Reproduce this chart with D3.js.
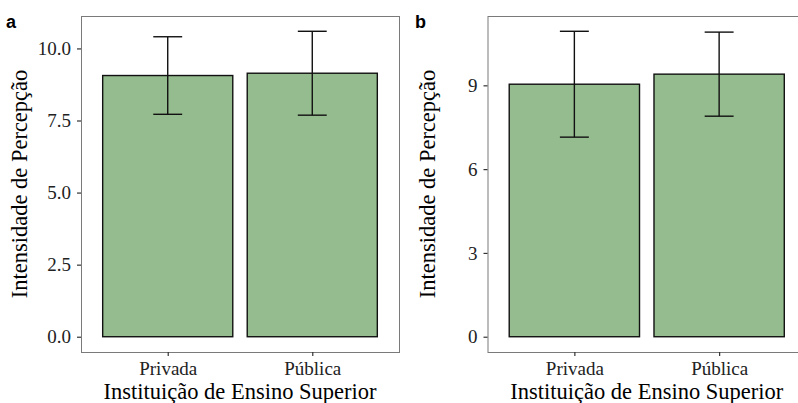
<!DOCTYPE html>
<html>
<head>
<meta charset="utf-8">
<script src="https://cdn.jsdelivr.net/npm/d3@7"></script>
<style>
  html, body { margin: 0; padding: 0; background: #fff; }
  svg { display: block; }
</style>
</head>
<body>
<div id="chart"></div>
<script>
// categories shared by both panels
var categories = ["Privada", "Pública"];

// panel a
var meansA = [9.06, 9.14];
var errA = [1.345, 1.455];
var ticksA = [0, 2.5, 5, 7.5, 10];

// panel b
var meansB = [9.04, 9.40];
var errB = [1.895, 1.505];
var ticksB = [0, 3, 6, 9];

var W = 798, H = 403;
var serif = "'Liberation Serif', 'Times New Roman', serif";

var svg = d3.select("#chart").append("svg")
  .attr("width", W)
  .attr("height", H);

function drawPanel(opts) {
  var left = opts.left, right = opts.right, top = 16, bottom = 352;

  var upper = opts.means.map(function(m, i) { return m + opts.err[i]; });
  var ymax = d3.max(upper);
  // ggplot style 5% expansion
  var y = d3.scaleLinear()
    .domain([-0.05 * ymax, ymax * 1.05])
    .range([bottom, top]);

  var x = d3.scalePoint()
    .domain(categories)
    .range([left, right])
    .padding(0.6);
  var step = x.step();

  var g = svg.append("g");

  // bars
  g.selectAll("rect.bar")
    .data(opts.means)
    .enter()
    .append("rect")
    .attr("class", "bar")
    .attr("x", function(d, i) { return x(categories[i]) - 0.45 * step; })
    .attr("y", function(d) { return y(d); })
    .attr("width", 0.9 * step)
    .attr("height", function(d) { return y(0) - y(d); })
    .attr("fill", "#95bc8e")
    .attr("stroke", "#111")
    .attr("stroke-width", 1.4);

  // error bars
  var eb = g.selectAll("g.err")
    .data(opts.means)
    .enter()
    .append("g")
    .attr("class", "err")
    .attr("stroke", "#111")
    .attr("stroke-width", 1.4);
  eb.append("line")
    .attr("x1", function(d, i) { return x(categories[i]); })
    .attr("x2", function(d, i) { return x(categories[i]); })
    .attr("y1", function(d, i) { return y(d + opts.err[i]); })
    .attr("y2", function(d, i) { return y(d - opts.err[i]); });
  eb.append("line")
    .attr("x1", function(d, i) { return x(categories[i]) - 0.1 * step; })
    .attr("x2", function(d, i) { return x(categories[i]) + 0.1 * step; })
    .attr("y1", function(d, i) { return y(d + opts.err[i]); })
    .attr("y2", function(d, i) { return y(d + opts.err[i]); });
  eb.append("line")
    .attr("x1", function(d, i) { return x(categories[i]) - 0.1 * step; })
    .attr("x2", function(d, i) { return x(categories[i]) + 0.1 * step; })
    .attr("y1", function(d, i) { return y(d - opts.err[i]); })
    .attr("y2", function(d, i) { return y(d - opts.err[i]); });

  // panel border
  g.append("rect")
    .attr("x", left + 0.5)
    .attr("y", top + 0.5)
    .attr("width", right - left)
    .attr("height", bottom - top)
    .attr("fill", "none")
    .attr("stroke", "#7a7a7a")
    .attr("stroke-width", 1);

  // y axis
  var yAxis = g.append("g")
    .attr("transform", "translate(" + left + ",0)")
    .call(d3.axisLeft(y).tickValues(opts.ticks).tickFormat(opts.fmt).tickSize(4).tickPadding(6));
  yAxis.select(".domain").remove();
  yAxis.selectAll(".tick line").attr("stroke", "#333").attr("stroke-width", 1.2);
  yAxis.selectAll(".tick text")
    .attr("fill", "#222")
    .attr("font-family", serif)
    .attr("font-size", "19px");

  // x axis
  var xAxis = g.append("g")
    .attr("transform", "translate(0," + bottom + ")")
    .call(d3.axisBottom(x).tickSize(4).tickPadding(6));
  xAxis.select(".domain").remove();
  xAxis.selectAll(".tick line").attr("stroke", "#333").attr("stroke-width", 1.2);
  xAxis.selectAll(".tick text")
    .attr("fill", "#222")
    .attr("font-family", serif)
    .attr("font-size", "19px");

  // axis titles
  g.append("text")
    .attr("x", (left + Math.min(right, W)) / 2 + opts.xTitleShift)
    .attr("y", 399)
    .attr("text-anchor", "middle")
    .attr("font-family", serif)
    .attr("font-size", "22.5px")
    .attr("fill", "#000")
    .text("Instituição de Ensino Superior");

  g.append("text")
    .attr("transform", "translate(" + opts.yTitleX + "," + ((top + bottom) / 2) + ") rotate(-90)")
    .attr("text-anchor", "middle")
    .attr("font-family", serif)
    .attr("font-size", "22.5px")
    .attr("fill", "#000")
    .text("Intensidade de Percepção");

  // panel tag
  g.append("text")
    .attr("x", opts.tagX)
    .attr("y", 28)
    .attr("font-family", "'Liberation Sans', Arial, sans-serif")
    .attr("font-weight", "bold")
    .attr("font-size", "18px")
    .attr("fill", "#000")
    .text(opts.tag);
}

drawPanel({
  left: 81, right: 399,
  means: meansA, err: errA, ticks: ticksA,
  fmt: d3.format(".1f"),
  yTitleX: 27, xTitleShift: 0,
  tagX: 6, tag: "a"
});

drawPanel({
  left: 487.5, right: 806,
  means: meansB, err: errB, ticks: ticksB,
  fmt: d3.format("d"),
  yTitleX: 435, xTitleShift: 4,
  tagX: 415, tag: "b"
});
</script>
</body>
</html>
